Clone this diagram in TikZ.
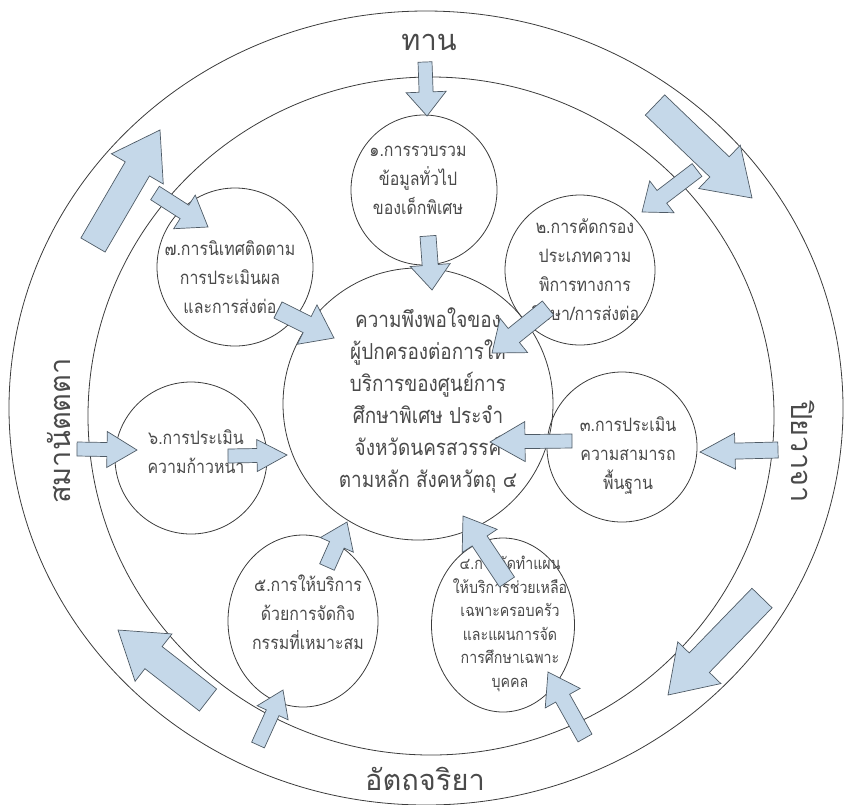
\documentclass[tikz,border=0pt]{standalone}
\usepackage{fontspec}
\newfontfamily\thai[Script=Thai, FakeStretch=0.86]{Loma}
\newfontfamily\thaiwide[Script=Thai]{Loma}
\usetikzlibrary{calc,shapes.geometric}
\definecolor{afill}{HTML}{C5D8E9}
\definecolor{aline}{HTML}{4F5B66}
\definecolor{ink}{HTML}{3C3C3C}
\definecolor{tink}{HTML}{4A4A4A}
\tikzset{
 blockarrow/.style={fill=afill, draw=aline, line width=0.7pt, line join=miter},
 ring/.style={ellipse, draw=ink, line width=0.8pt, inner sep=0pt},
 bubble/.style={ellipse, draw=ink, line width=0.8pt, inner sep=0pt},
 txt/.style={text=tink, align=center, inner sep=0pt, font=\thai\fontsize{18.5}{29}\selectfont},
 smalltxt/.style={text=tink, align=center, inner sep=0pt, font=\thai\fontsize{16.5}{23.5}\selectfont},
 maintxt/.style={text=tink, align=center, inner sep=0pt, font=\thai\fontsize{22}{32}\selectfont},
 bigtxt/.style={text=tink, inner sep=0pt, font=\thaiwide\fontsize{29}{36}\selectfont},
}
% tail, tip, half shaft, half head, head length
\newcommand\barrow[5]{%
  \coordinate (bh) at ($(#2)!#5!(#1)$);
  \draw[blockarrow] ($(#1)!#3!90:(#2)$) -- ($(bh)!#3!90:(#2)$) -- ($(bh)!#4!90:(#2)$) -- (#2)
    -- ($(bh)!#4!-90:(#2)$) -- ($(bh)!#3!-90:(#2)$) -- ($(#1)!#3!-90:(#2)$) -- cycle;}
\begin{document}
\begin{tikzpicture}[x=1pt,y=-1pt]
\useasboundingbox (0,0) rectangle (845,804);
\clip (0,0) rectangle (845,804);
% rings
\node[ring, minimum width=834pt, minimum height=794pt] (outer) at (426,408) {};
\node[ring, minimum width=686pt, minimum height=678pt] (inner) at (431,416) {};
% bubbles
\node[bubble, minimum width=270pt, minimum height=272pt] (c0) at (418,404) {};
\node[bubble, minimum width=146pt, minimum height=150pt] (c1) at (424,190) {};
\node[bubble, minimum width=150pt, minimum height=150pt] (c2) at (580,270) {};
\node[bubble, minimum width=150pt, minimum height=150pt] (c3) at (622,447) {};
\node[bubble, minimum width=143pt, minimum height=174pt] (c4) at (503,625) {};
\node[bubble, minimum width=150pt, minimum height=172pt] (c5) at (303,621) {};
\node[bubble, minimum width=152pt, minimum height=152pt] (c6) at (191,458) {};
\node[bubble, minimum width=156pt, minimum height=158pt] (c7) at (235,267) {};
% texts
\node[maintxt] (t0) at (428,400) {ความพึงพอใจของ\\ผู้ปกครองต่อการให้\\บริการของศูนย์การ\\ศึกษาพิเศษ ประจำ\\จังหวัดนครสวรรค์\\ตามหลัก สังคหวัตถุ ๔};
\node[txt] (t1) at (418,180) {๑.การรวบรวม\\ข้อมูลทั่วไป\\ของเด็กพิเศษ};
\node[txt] (t2) at (585,270) {๒.การคัดกรอง\\ประเภทความ\\พิการทางการ\\ศึกษา/การส่งต่อ};
\node[txt] (t3) at (628,455) {๓.การประเมิน\\ความสามารถ\\พื้นฐาน};
\node[smalltxt] (t4) at (510,624) {๔.การจัดทำแผน\\ให้บริการช่วยเหลือ\\เฉพาะครอบครัว\\และแผนการจัด\\การศึกษาเฉพาะ\\บุคคล};
\node[txt] (t5) at (308,612) {๕.การให้บริการ\\ด้วยการจัดกิจ\\กรรมที่เหมาะสม};
\node[txt] (t6) at (196,452) {๖.การประเมิน\\ความก้าวหน้า};
\node[txt] (t7) at (230,277) {๗.การนิเทศติดตาม\\การประเมินผล\\และการส่งต่อ};
\node[bigtxt] (top) at (429,42) {ทาน};
\node[bigtxt] (bottom) at (425,779) {อัตถจริยา};
\node[bigtxt, rotate=90] (left) at (59,431) {สมานัตตตา};
\node[bigtxt, rotate=-90] (right) at (803,452) {ปิยวาจา};
% arrow end points
\coordinate (a1) at (425,62);  \coordinate (a2) at (427,116);
\coordinate (b1) at (428,236); \coordinate (b2) at (432,290);
\coordinate (c1t) at (655,105); \coordinate (c2t) at (752,198);
\coordinate (d1) at (697,170); \coordinate (d2) at (642,212);
\coordinate (e1) at (548,308); \coordinate (e2) at (492,353);
\coordinate (f1) at (778,450); \coordinate (f2) at (700,452);
\coordinate (g1) at (572,441); \coordinate (g2) at (490,442);
\coordinate (h1) at (762,598); \coordinate (h2) at (668,695);
\coordinate (i1) at (585,738); \coordinate (i2) at (548,672);
\coordinate (j1) at (507,582); \coordinate (j2) at (463,516);
\coordinate (k1) at (208,700); \coordinate (k2) at (118,630);
\coordinate (l1) at (258,745); \coordinate (l2) at (283,690);
\coordinate (m1) at (327,567); \coordinate (m2) at (347,522);
\coordinate (n1) at (77,449);  \coordinate (n2) at (137,450);
\coordinate (o1) at (228,456); \coordinate (o2) at (287,455);
\coordinate (p1) at (93,245);  \coordinate (p2) at (160,130);
\coordinate (q1) at (155,193); \coordinate (q2) at (208,227);
\coordinate (r1) at (278,310); \coordinate (r2) at (334,338);
% arrows
\barrow{a1}{a2}{7pt}{20pt}{24pt}
\barrow{b1}{b2}{8pt}{20pt}{25pt}
\barrow{c1t}{c2t}{14pt}{30pt}{45pt}
\barrow{d1}{d2}{8pt}{20pt}{25pt}
\barrow{e1}{e2}{9pt}{22pt}{28pt}
\barrow{f1}{f2}{8pt}{18pt}{35pt}
\barrow{g1}{g2}{7pt}{20pt}{35pt}
\barrow{h1}{h2}{14pt}{30pt}{45pt}
\barrow{i1}{i2}{8pt}{20pt}{30pt}
\barrow{j1}{j2}{9pt}{21pt}{30pt}
\barrow{k1}{k2}{14pt}{30pt}{45pt}
\barrow{l1}{l2}{7pt}{17pt}{25pt}
\barrow{m1}{m2}{8pt}{18pt}{25pt}
\barrow{n1}{n2}{7pt}{18pt}{30pt}
\barrow{o1}{o2}{7pt}{16pt}{30pt}
\barrow{p1}{p2}{14pt}{30pt}{45pt}
\barrow{q1}{q2}{8pt}{20pt}{28pt}
\barrow{r1}{r2}{9pt}{22pt}{30pt}
\end{tikzpicture}
\end{document}
